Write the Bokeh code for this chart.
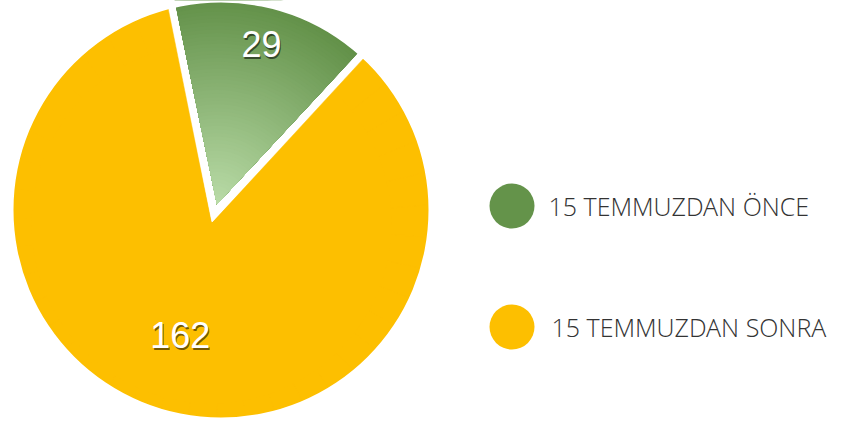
import math
from bokeh.plotting import figure
from bokeh.models import Range1d, ColumnDataSource
from bokeh.core.properties import value
from bokeh.embed import file_html
from bokeh.resources import INLINE

# ---- data ----
categories = ["15 TEMMUZDAN ÖNCE", "15 TEMMUZDAN SONRA"]
values = [29, 162]
slice_colors = ["#64934a", "#fdbf00"]

# ---- layout / style ----
W, H = 857, 425
start_deg = 101.7            # first slice starts slightly left of 12 o'clock, runs clockwise
apex = (211.0, 202.0)        # pie apex (data coords, y up)
circ_c = (220.5, 215.5)      # centre of the outer rim
R = 207.5
explode = [20.0, 0.0]
label_frac = [0.80, 0.56]

p = figure(width=W, height=H, output_backend="svg", toolbar_location=None,
           x_range=Range1d(0, W), y_range=Range1d(0, H),
           x_axis_type=None, y_axis_type=None, min_border=0,
           background_fill_color="white", border_fill_color="white")
p.outline_line_color = None
p.grid.visible = False

total = float(sum(values))
angles = []
a = start_deg
for v in values:
    span = v / total * 360.0
    angles.append((a, a - span))
    a -= span

def lerp(c1, c2, t):
    c1 = [int(c1[i:i + 2], 16) for i in (1, 3, 5)]
    c2 = [int(c2[i:i + 2], 16) for i in (1, 3, 5)]
    return "#%02x%02x%02x" % tuple(int(round(c1[k] + (c2[k] - c1[k]) * t)) for k in range(3))

def rim_dist(cx, cy, ang_deg):
    # distance from (cx, cy) to the outer rim along direction ang
    ux, uy = math.cos(math.radians(ang_deg)), math.sin(math.radians(ang_deg))
    dx, dy = cx - circ_c[0], cy - circ_c[1]
    b = dx * ux + dy * uy
    c = dx * dx + dy * dy - R * R
    return -b + math.sqrt(b * b - c)

centers = []
for i, (s, e) in enumerate(angles):
    mid = math.radians((s + e) / 2)
    cx = apex[0] + explode[i] * math.cos(mid)
    cy = apex[1] + explode[i] * math.sin(mid)
    centers.append((cx, cy, mid))

# yellow (big) slice, drawn as sub-wedges whose radii just pass the rim
cx, cy, mid = centers[1]
s, e = angles[1]
nseg = 36
xs, ys, rs, sa, ea = [], [], [], [], []
for k in range(nseg):
    a0 = s + (e - s) * k / nseg
    a1 = s + (e - s) * (k + 1) / nseg
    r = max(rim_dist(cx, cy, a0), rim_dist(cx, cy, a1), rim_dist(cx, cy, (a0 + a1) / 2)) + 4
    xs.append(cx); ys.append(cy); rs.append(r)
    sa.append(math.radians(a0 + 0.3)); ea.append(math.radians(a1 - 0.3))
p.wedge(x=xs, y=ys, radius=rs, start_angle=sa, end_angle=ea, direction="clock",
        fill_color=slice_colors[1], line_color=slice_colors[1], line_width=0.5)
p.wedge(x=[cx], y=[cy], radius=180, start_angle=[math.radians(s)], end_angle=[math.radians(e)],
        direction="clock", fill_color=slice_colors[1], line_color=None)

# green slice with gradient (dark at rim, light at apex)
cx, cy, mid = centers[0]
s, e = angles[0]
N = 60
dark, light = "#5f8e45", "#b9dba7"
for k in range(N):
    r = 214.0 * (1 - k / N)
    t = k / (N - 1)
    p.wedge(x=[cx], y=[cy], radius=r, start_angle=[math.radians(s)], end_angle=[math.radians(e)],
            direction="clock", fill_color=lerp(dark, light, t), line_color=None)

# trim everything to the round rim
p.annulus(x=[circ_c[0]], y=[circ_c[1]], inner_radius=R, outer_radius=260,
          fill_color="white", line_color=None)

# value labels with shadow
lx, ly = [], []
for i, (cx, cy, mid) in enumerate(centers):
    d = label_frac[i] * R
    lx.append(cx + d * math.cos(mid))
    ly.append(cy + d * math.sin(mid))
txt = [str(v) for v in values]
p.text(x=[x + 1 for x in lx], y=[y - 1.5 for y in ly], text=txt, text_color="#000000", text_alpha=0.55,
       text_font=value("Liberation Sans"), text_font_size="36px",
       text_align="center", text_baseline="middle")
p.text(x=lx, y=ly, text=txt, text_color="white",
       text_font=value("Liberation Sans"), text_font_size="36px",
       text_align="center", text_baseline="middle")

# legend
leg_y = [219.5, 98.5]
src = ColumnDataSource(dict(x=[511.5] * 2, y=leg_y, c=slice_colors, t=categories, tx=[548, 551]))
p.scatter(x="x", y="y", size=45, fill_color="c", line_color=None, source=src)
p.text(x="tx", y="y", text="t", text_color="#333333",
       text_font=value("'Open Sans Light', 'Open Sans'"),
       text_font_size="25px", text_baseline="middle", text_align="left", source=src)

open("out.html", "w").write(file_html(p, INLINE))
